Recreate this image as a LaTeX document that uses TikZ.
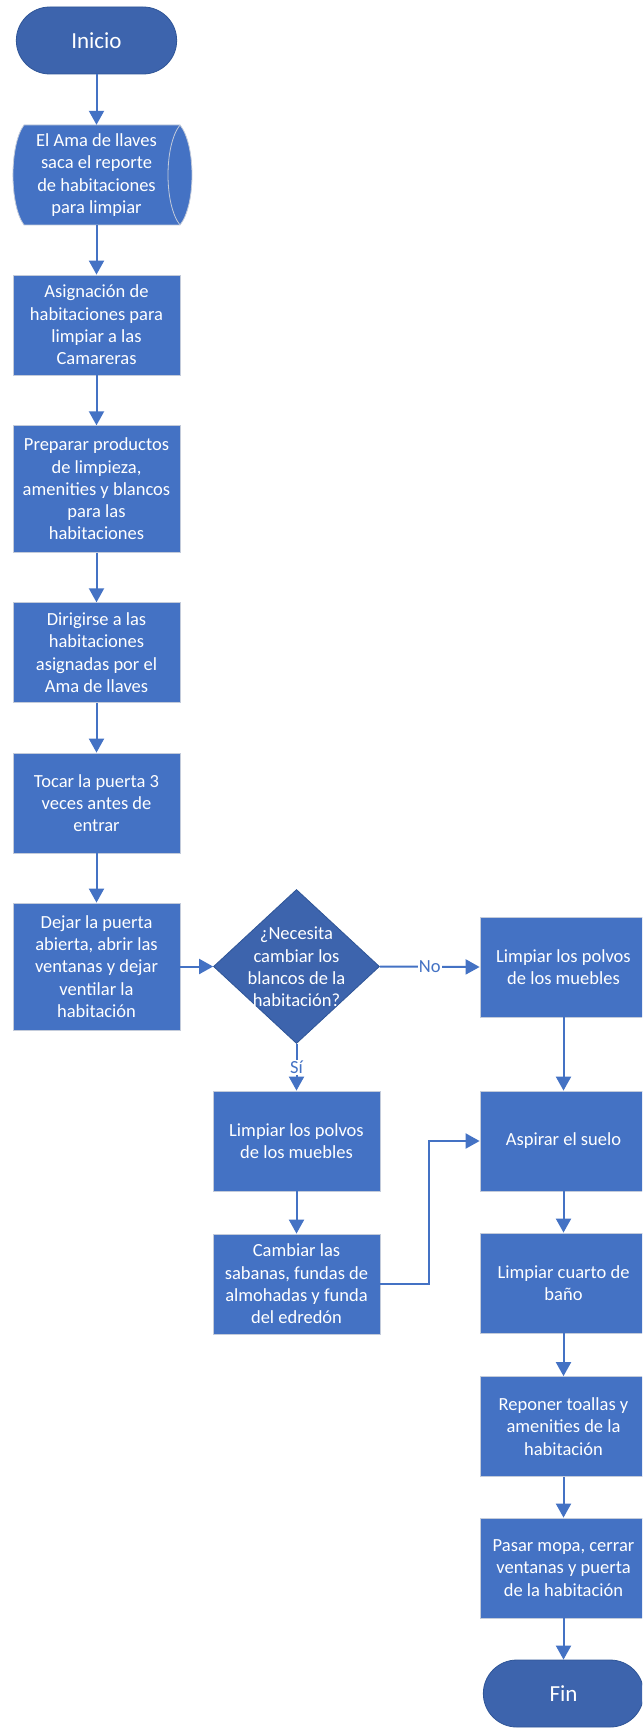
\documentclass[tikz,border=0pt]{standalone}
\usepackage{fontspec}
\setmainfont{Carlito}
\usetikzlibrary{shapes.geometric,shapes.misc,arrows.meta}
\definecolor{boxblue}{HTML}{4472C4}
\definecolor{darkblue}{HTML}{3D64AD}
\definecolor{darkedge}{HTML}{2F5597}
\definecolor{lightedge}{HTML}{C3CBDA}
\begin{document}
\begin{tikzpicture}[x=1pt,y=-1pt,
  every node/.style={font=\fontsize{18.5}{22.3}\selectfont, text=white, align=center},
  procbox/.style={rectangle, draw=lightedge, line width=0.8pt, fill=boxblue, minimum width=167pt, minimum height=100pt, inner sep=2pt},
  termbox/.style={rounded rectangle, draw=darkedge, line width=0.8pt, fill=darkblue, minimum width=167pt, minimum height=67pt, font=\fontsize{23}{27}\selectfont},
  decbox/.style={diamond, draw=darkedge, line width=0.8pt, fill=darkblue, minimum width=166pt, minimum height=154pt, inner sep=0pt},
  arr/.style={draw=boxblue, line width=2pt, -{Triangle[width=15pt,length=14pt]}},
  lbl/.style={fill=white, text=boxblue, inner sep=1pt, font=\fontsize{18.5}{22}\selectfont}
]
\clip (0,0) rectangle (642,1728);
\fill[white] (0,0) rectangle (642,1728);

% left column
\node[termbox] (inicio) at (96.5,40.5) {Inicio};
\filldraw[fill=boxblue, draw=lightedge, line width=0.8pt]
  (24,125) -- (180,125) .. controls (196,145) and (196,205) .. (180,225)
  -- (24,225) .. controls (9.3,205) and (9.3,145) .. (24,125) -- cycle;
\draw[lightedge, line width=0.8pt] (180,125) .. controls (164,145) and (164,205) .. (180,225);
\node[minimum width=167pt, minimum height=100pt, inner sep=0pt] (datos) at (96.5,175) {El Ama de llaves\\saca el reporte\\de habitaciones\\para limpiar};
\node[procbox] (asig) at (96.5,325) {Asignación de\\habitaciones para\\limpiar a las\\Camareras};
\node[procbox, minimum height=126.6pt] (prep) at (96.5,489) {Preparar productos\\de limpieza,\\amenities y blancos\\para las\\habitaciones};
\node[procbox] (dirig) at (96.5,652.7) {Dirigirse a las\\habitaciones\\asignadas por el\\Ama de llaves};
\node[procbox] (tocar) at (96.5,803) {Tocar la puerta 3\\veces antes de\\entrar};
\node[procbox, minimum height=127pt] (dejar) at (96.5,966.5) {Dejar la puerta\\abierta, abrir las\\ventanas y dejar\\ventilar la\\habitación};

% decision
\node[decbox] (dec) at (296.5,966.5) {};
\node[inner sep=0pt] (dectxt) at (296.5,967) {¿Necesita\\cambiar los\\blancos de la\\habitación?};

% middle column
\node[procbox] (limp2) at (296.5,1141) {Limpiar los polvos\\de los muebles};
\node[procbox] (camb) at (296.5,1284) {Cambiar las\\sabanas, fundas de\\almohadas y funda\\del edredón};

% right column
\node[procbox] (limp1) at (563.5,967) {Limpiar los polvos\\de los muebles};
\node[procbox] (asp) at (563.5,1141) {Aspirar el suelo};
\node[procbox] (cuarto) at (563.5,1283) {Limpiar cuarto de\\baño};
\node[procbox] (repon) at (563.5,1426.5) {Reponer toallas y\\amenities de la\\habitación};
\node[procbox] (pasar) at (563.5,1568) {Pasar mopa, cerrar\\ventanas y puerta\\de la habitación};
\node[termbox] (fin) at (563.5,1693.5) {Fin};

% connectors
\draw[arr] (inicio.south) -- (datos.north);
\draw[arr] (datos.south) -- (asig.north);
\draw[arr] (asig.south) -- (prep.north);
\draw[arr] (prep.south) -- (dirig.north);
\draw[arr] (dirig.south) -- (tocar.north);
\draw[arr] (tocar.south) -- (dejar.north);
\draw[arr] (dejar.east) -- (dec.west);
\draw[arr] (dec.east) -- node[lbl] {No} (limp1.west);
\draw[arr] (dec.south) -- node[lbl] {Sí} (limp2.north);
\draw[arr] (limp2.south) -- (camb.north);
\draw[arr] (limp1.south) -- (asp.north);
\draw[arr] (camb.east) -- ++(49,0) |- (asp.west);
\draw[arr] (asp.south) -- (cuarto.north);
\draw[arr] (cuarto.south) -- (repon.north);
\draw[arr] (repon.south) -- (pasar.north);
\draw[arr] (pasar.south) -- (fin.north);
\end{tikzpicture}
\end{document}
